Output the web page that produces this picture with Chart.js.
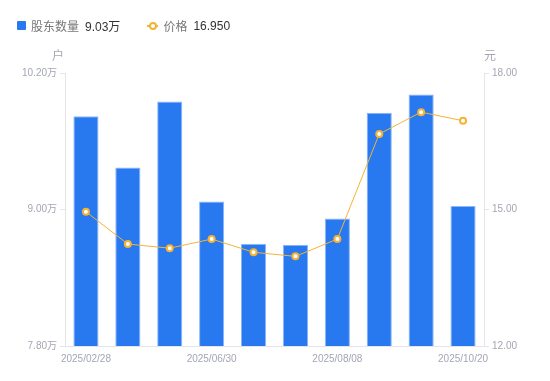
<!DOCTYPE html>
<html>
<head>
<meta charset="utf-8">
<script src="https://cdn.jsdelivr.net/npm/chart.js@4"></script>
<style>
  html, body { margin: 0; padding: 0; background: #fff; }
  #wrap { position: relative; width: 550px; height: 381px; font-family: "Liberation Sans", Arial, "Noto Sans CJK SC", sans-serif; }
  #legend { position: absolute; left: 17px; top: 17px; font-size: 12px; color: #777; display: flex; align-items: center; }
  #legend .item { display: flex; align-items: center; margin-right: 27px; }
  #legend .val { color: #333; margin-left: 6px; }
  .sq { width: 9px; height: 9px; background: #2878f0; border-radius: 1px; margin-right: 5px; }
  .ln { position: relative; width: 11px; height: 2px; background: #f5b335; margin-right: 5px; }
  .ln::after { content: ""; position: absolute; left: 2px; top: -3px; width: 4px; height: 4px; border: 2px solid #f5b335; border-radius: 50%; background: #fff; box-sizing: content-box; }
  canvas { position: absolute; left: 0; top: 0; }
</style>
</head>
<body>
<div id="wrap">
  <canvas id="chart" width="550" height="381"></canvas>
  <div id="legend">
    <div class="item"><span class="sq"></span>股东数量<span class="val">9.03万</span></div>
    <div class="item"><span class="ln"></span>价格<span class="val">16.950</span></div>
  </div>
</div>
<script>
// 股东数量 (万户) and 股价 (元) by report date
let dates = ['2025/02/28', '2025/03/31', '2025/04/30', '2025/06/30', '2025/07/10',
             '2025/07/20', '2025/08/08', '2025/08/31', '2025/09/30', '2025/10/20'];
let holders = [9.82, 9.37, 9.95, 9.07, 8.70, 8.69, 8.92, 9.85, 10.01, 9.03];
let price = [14.95, 14.24, 14.15, 14.35, 14.06, 13.97, 14.35, 16.66, 17.14, 16.95];
let shownTicks = [0, 3, 6, 9];

const tickColor = '#a3a6b4';
const lineColor = '#e3e5ea';
const tickFont = { size: 10, family: '"Liberation Sans", Arial, "Noto Sans CJK SC", sans-serif' };

// unit labels above both y axes
const unitTitles = {
  id: 'unitTitles',
  afterDraw(chart) {
    const ctx = chart.ctx;
    ctx.save();
    ctx.font = '12px "Liberation Sans", "Noto Sans CJK SC", sans-serif';
    ctx.fillStyle = tickColor;
    ctx.textBaseline = 'middle';
    ctx.textAlign = 'center';
    ctx.fillText('户', chart.scales.y.right - 7, 57);
    ctx.fillText('元', chart.scales.y1.left + 6, 57);
    ctx.restore();
  }
};

const ctx = document.getElementById('chart').getContext('2d');
new Chart(ctx, {
  data: {
    labels: dates,
    datasets: [
      {
        type: 'line',
        label: '价格',
        data: price,
        yAxisID: 'y1',
        borderColor: '#f5b335',
        borderWidth: 1,
        pointRadius: 3,
        pointBorderWidth: 2,
        pointBackgroundColor: '#fff',
        pointBorderColor: '#f5b335',
        tension: 0,
        order: 0
      },
      {
        type: 'bar',
        label: '股东数量',
        data: holders,
        yAxisID: 'y',
        backgroundColor: '#2878f0',
        borderColor: '#8ab6fa',
        borderWidth: { top: 1, left: 1, right: 1, bottom: 0 },
        categoryPercentage: 0.6,
        barPercentage: 1,
        order: 1
      }
    ]
  },
  options: {
    responsive: false,
    animation: false,
    layout: { padding: { top: 73, left: 0, right: 0, bottom: 0 } },
    plugins: { legend: { display: false }, tooltip: { enabled: false } },
    scales: {
      x: {
        grid: { display: false, drawTicks: false },
        border: { color: lineColor },
        ticks: {
          autoSkip: false,
          maxRotation: 0,
          padding: 7,
          color: tickColor,
          font: tickFont,
          callback: function (v, i) { return shownTicks.includes(i) ? dates[i] : ''; }
        },
        afterFit: function (s) { s.height = 35; }
      },
      y: {
        position: 'left',
        min: 7.8,
        max: 10.2,
        grid: { drawOnChartArea: false, color: lineColor, tickLength: 5 },
        border: { color: lineColor },
        ticks: {
          stepSize: 1.2,
          padding: 3,
          color: tickColor,
          font: tickFont,
          callback: function (v) { return v.toFixed(2) + '万'; }
        },
        afterFit: function (s) { s.width = 65; }
      },
      y1: {
        position: 'right',
        min: 12,
        max: 18,
        grid: { drawOnChartArea: false, color: lineColor, tickLength: 5 },
        border: { color: lineColor },
        ticks: {
          stepSize: 3,
          padding: 3,
          color: tickColor,
          font: tickFont,
          callback: function (v) { return v.toFixed(2); }
        },
        afterFit: function (s) { s.width = 66; }
      }
    }
  },
  plugins: [unitTitles]
});
</script>
</body>
</html>
